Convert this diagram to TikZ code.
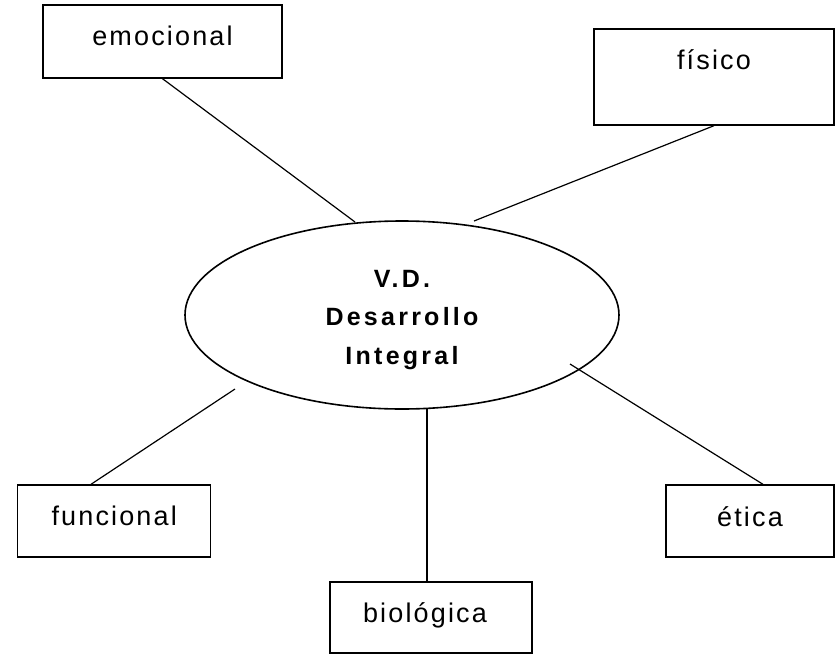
\documentclass[tikz,border=0pt]{standalone}
\usepackage{fontspec}
\setmainfont{Liberation Sans}
\newfontfamily\boxfont[LetterSpace=8]{Liberation Sans}
\newfontfamily\vdfont[LetterSpace=13]{Liberation Sans}
\usetikzlibrary{shapes.geometric}
\begin{document}
\begin{tikzpicture}[x=1pt,y=-1pt,
  box/.style={draw, line width=1.4pt, rectangle, inner sep=0pt, font=\boxfont\fontsize{27}{31}\selectfont},
  conn/.style={line width=1.2pt}]
\useasboundingbox (0,0) rectangle (836,654);
\node[ellipse, draw, line width=1.6pt, minimum width=434pt, minimum height=188pt, inner sep=0pt, align=center, font=\vdfont\bfseries\fontsize{25}{38.3}\selectfont] (vd) at (402,315) {\rule{0pt}{27pt}V.D.\\Desarrollo\\Integral};
\node[box, minimum width=239pt, minimum height=73pt, text height=8.4pt, text depth=0pt] (emo) at (162.5,41.5) {emocional};
\node[box, minimum width=240pt, minimum height=96pt, text height=0pt, text depth=16pt] (fis) at (714,77) {físico};
\node[box, minimum width=193pt, minimum height=72pt, text height=9.4pt, text depth=0pt] (fun) at (114.2,521) {funcional};
\node[box, minimum width=168pt, minimum height=72pt, text height=10pt, text depth=0pt] (eti) at (750,521) {ética};
\node[box, minimum width=202pt, minimum height=71pt, text height=9pt, text depth=0pt] (bio) at (431,617.5) {biológica\kern12pt};
\coordinate (e1) at (355,222);
\coordinate (f1) at (474,221);
\coordinate (u1) at (235,389);
\coordinate (t1) at (570,364);
\coordinate (b1) at (427,408);
\draw[conn] (emo.south) -- (e1);
\draw[conn] (fis.south) -- (f1);
\draw[conn] ([xshift=-23.2pt]fun.north) -- (u1);
\draw[conn] ([xshift=13pt]eti.north) -- (t1);
\draw[conn] (b1) -- (b1 |- bio.north);
\end{tikzpicture}
\end{document}
